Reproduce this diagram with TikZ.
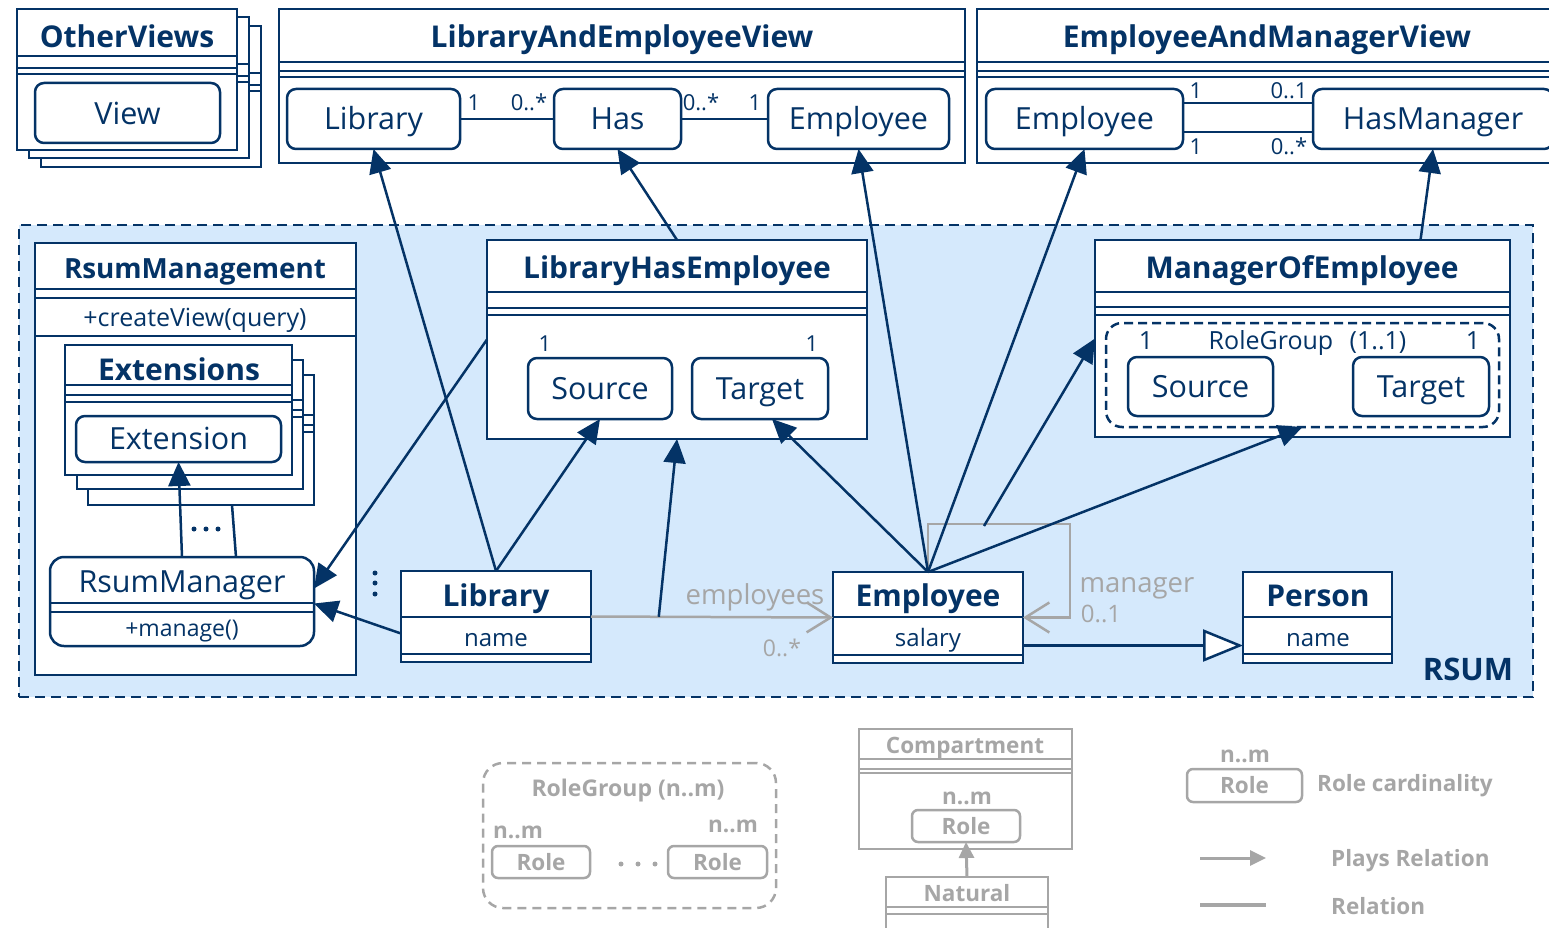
\documentclass[tikz,border=0pt]{standalone}
\usepackage{fontspec}
\setmainfont{Open Sans}
\usetikzlibrary{arrows.meta,calc}
\definecolor{navy}{RGB}{4,51,102}
\definecolor{rsumbg}{RGB}{213,233,252}
\definecolor{lgray}{RGB}{166,166,166}
\newcommand\fs[1]{\fontsize{#1}{#1}\selectfont}
% UML-style frame: name, x, y, width, height, separator offsets, colour
\newcommand\umlframe[7]{%
  \node[box,draw=#7,minimum width=#4pt,minimum height=#5pt] (#1) at (#2,#3) {};
  \foreach \off in {#6} {\draw[draw=#7,line width=2.5pt] (#2,#3+\off) -- (#2+#4,#3+\off);}
}
\begin{document}
\begin{tikzpicture}[x=1pt,y=-1pt,
  box/.style={draw=navy,line width=2.5pt,fill=white,anchor=north west,inner sep=0pt,outer sep=0pt},
  rbox/.style={box,rounded corners=9pt},
  gbox/.style={box,draw=lgray,rounded corners=6pt},
  ttl/.style={text=navy,font=\fs{30}\bfseries,inner sep=0pt,text height=21.4pt,text depth=0pt},
  txt/.style={text=navy,font=\fs{30.5},inner sep=0pt,text height=21.8pt,text depth=0pt},
  small/.style={text=navy,font=\fs{24},inner sep=0pt,text height=17.1pt,text depth=0pt},
  mult/.style={text=navy,font=\fs{22},inner sep=0pt,text height=15.7pt,text depth=0pt},
  gtxt/.style={text=lgray,font=\fs{27.5},inner sep=0pt,text height=19.6pt,text depth=0pt},
  leg/.style={text=lgray,font=\fs{22.5}\bfseries,inner sep=0pt,text height=16pt,text depth=0pt},
  link/.style={draw=navy,line width=2.5pt},
  plays/.style={draw=navy,line width=2.5pt,-{Triangle[length=24pt,width=22pt]}},
  assoc/.style={draw=lgray,line width=2.5pt,-{Straight Barb[length=24pt,width=30pt]}},
  gplays/.style={draw=lgray,line width=3pt,-{Triangle[length=16pt,width=15pt]}},
]
\useasboundingbox (0,0) rectangle (1549,928);
\clip (0,0) rectangle (1549,928);

% ---------- views ----------
\umlframe{ov3}{41}{26}{220}{141}{47,59,65}{navy}
\umlframe{ov2}{29}{17}{220}{141}{47,59,65}{navy}
\umlframe{ov1}{17}{9}{220}{141}{47,59,65}{navy}
\node[ttl] (ovT) at (127,37) {OtherViews};
\node[rbox,minimum width=185pt,minimum height=60pt] (vView) at (35,83) {};
\node[txt] at ([yshift=-1pt]vView.center) {View};

\umlframe{laev}{279}{9}{686}{154}{53,62,68}{navy}
\node[ttl] (laevT) at (622,37) {LibraryAndEmployeeView};
\node[rbox,minimum width=173pt,minimum height=60pt] (vLib) at (287,89) {};
\node[rbox,minimum width=127pt,minimum height=60pt] (vHas) at (554,89) {};
\node[rbox,minimum width=181pt,minimum height=60pt] (vEmp) at (768,89) {};
\node[txt] at (vLib.center) {Library};
\node[txt] at (vHas.center) {Has};
\node[txt] at (vEmp.center) {Employee};
\draw[link] (vLib.east) -- (vHas.west);
\draw[link] (vHas.east) -- (vEmp.west);
\node[mult] at (474,103) {1};
\node[mult] at (529,103) {0..*};
\node[mult] at (701,103) {0..*};
\node[mult] at (755,103) {1};

\umlframe{eamv}{977}{9}{600}{154}{53,62,68}{navy}
\node[ttl] (eamvT) at (1267,37) {EmployeeAndManagerView};
\node[rbox,minimum width=197pt,minimum height=60pt] (vEmp2) at (986,89) {};
\node[rbox,minimum width=240pt,minimum height=60pt] (vHM) at (1313,89) {};
\node[txt] at (vEmp2.center) {Employee};
\node[txt] at (vHM.center) {HasManager};
\draw[link] ([yshift=16pt]vEmp2.east) -- ([yshift=16pt]vHM.west);
\draw[link] ([yshift=-13pt]vEmp2.east) -- ([yshift=-13pt]vHM.west);
\node[mult] at (1196,91) {1};
\node[mult] at (1289,91) {0..1};
\node[mult] at (1196,147) {1};
\node[mult] at (1289,147) {0..*};

% ---------- RSUM ----------
\node[box,fill=rsumbg,dash pattern=on 10pt off 6pt,minimum width=1514pt,minimum height=472pt] (rsum) at (19,225) {};
\node[ttl,font=\fs{31}\bfseries] (rsumT) at (1468,670) {RSUM};

% RsumManagement
\umlframe{rmg}{35}{243}{321}{432}{46,55,93}{navy}
\node[ttl,font=\fs{27.8}\bfseries] (rmgT) at (195,268) {RsumManagement};
\node[small,font=\fs{25}] (rmgOp) at (195,318) {+createView(query)};
\umlframe{ext3}{88}{375}{226}{130}{40,50,57}{navy}
\umlframe{ext2}{77}{360}{226}{129}{40,50,57}{navy}
\umlframe{ext1}{65}{345}{227}{130}{40,50,57}{navy}
\node[ttl] (extT) at (179,370) {Extensions};
\node[rbox,minimum width=205pt,minimum height=46pt] (ext) at (76,416) {};
\node[txt] at (ext.center) {Extension};
\node[rbox,rounded corners=14pt,minimum width=264pt,minimum height=89pt] (rm) at (50,557) {};
\draw[link] (50,603) -- (314,603);
\draw[link] (50,612) -- (314,612);
\node[txt] (rmT) at (182,582) {RsumManager};
\node[small,font=\fs{23}] (rmOp) at (182,628) {+manage()};
\draw[plays] (rm.north) -- (ext.south);
\draw[link] ([xshift=54pt]rm.north) -- ([xshift=31pt]ext3.south);
\foreach \dx in {194,206,218} \fill[navy] (\dx,529) circle (2.5pt);
\foreach \dy in {573,583,594} \fill[navy] (375,\dy) circle (2.5pt);

% LibraryHasEmployee
\umlframe{lhe}{487}{240}{380}{199}{52,68,75}{navy}
\node[ttl] (lheT) at (677,268) {LibraryHasEmployee};
\node[rbox,minimum width=144pt,minimum height=61pt] (lheSrc) at (528,358) {};
\node[rbox,minimum width=136pt,minimum height=61pt] (lheTgt) at (692,358) {};
\node[txt] at (lheSrc.center) {Source};
\node[txt] at (lheTgt.center) {Target};
\node[mult] at (545,344) {1};
\node[mult] at (812,344) {1};

% ManagerOfEmployee
\umlframe{moe}{1095}{240}{415}{197}{52,67,75}{navy}
\node[ttl] (moeT) at (1302,268) {ManagerOfEmployee};
\node[box,fill=none,rounded corners=16pt,dash pattern=on 9pt off 5pt,minimum width=393pt,minimum height=104pt] (rg) at (1106,323) {};
\node[rbox,minimum width=145pt,minimum height=59pt] (moeSrc) at (1128,357) {};
\node[rbox,minimum width=136pt,minimum height=59pt] (moeTgt) at (1353,357) {};
\node[txt] at (moeSrc.center) {Source};
\node[txt] at (moeTgt.center) {Target};
\node[mult,font=\fs{25}] at (1146,342) {1};
\node[mult,font=\fs{25}] at (1271,342) {RoleGroup};
\node[mult,font=\fs{25}] at (1378,342) {(1..1)};
\node[mult,font=\fs{25}] at (1473,342) {1};

% naturals
\umlframe{libC}{401}{571}{190}{91}{46,83}{navy}
\node[ttl] (libT) at (496,596) {Library};
\node[small] at (496,638) {name};
\umlframe{empC}{833}{572}{190}{91}{45,83}{navy}
\node[ttl] (empT) at (928,596) {Employee};
\node[small] at (928,638) {salary};
\umlframe{person}{1243}{572}{149}{91}{45,82}{navy}
\node[ttl] (perT) at (1318,596) {Person};
\node[small] at (1318,638) {name};

% relations between naturals
\draw[assoc] (libC.east) -- (empC.west);
\node[gtxt] at (755,595) {employees};
\node[gtxt,font=\fs{23}] at (782,647) {0..*};
\coordinate (loopc) at (1070,524);
\draw[assoc] (empC.north) |- (loopc) |- (empC.east);
\node[gtxt] at (1137,583) {manager};
\node[gtxt,font=\fs{24}] at (1101,613) {0..1};
\draw[navy,line width=2.5pt,-{Triangle[open,length=40pt,width=32pt,fill=white]}] ([yshift=-28pt]empC.east) -- ([yshift=-28pt]person.west);

% plays relations
\coordinate (assocMid) at ($(libC.east)!0.28!(empC.west)$);
\coordinate (mgrRel) at (984,526);
\draw[plays] (libC.north) -- (vLib.south);
\draw[plays] (libC.north) -- (lheSrc.south);
\draw[plays] (assocMid) -- (lhe.south);
\draw[plays] (lhe.north) -- (vHas.south);
\draw[plays] (lhe.west) -- ([yshift=13pt]rm.east);
\draw[plays] ([yshift=-17pt]libC.west) -- ([yshift=-2pt]rm.east);
\draw[plays] (empC.north) -- ([xshift=12pt]lheTgt.south);
\draw[plays] (empC.north) -- (vEmp.south);
\draw[plays] (empC.north) -- (vEmp2.south);
\draw[plays] (empC.north) -- (rg.south);
\draw[plays] (mgrRel) -- (moe.west);
\draw[plays] ([xshift=118pt]moe.north) -- (vHM.south);

% ---------- legend ----------
\node[box,draw=lgray,fill=none,rounded corners=20pt,dash pattern=on 9pt off 6pt,minimum width=293pt,minimum height=145pt] (lrg) at (483,763) {};
\node[leg,font=\fs{23}\bfseries] at (628,788) {RoleGroup (n..m)};
\node[leg] at (518,830) {n..m};
\node[leg] at (733,824) {n..m};
\node[gbox,minimum width=98pt,minimum height=32pt] (lr1) at (492,846) {};
\node[gbox,minimum width=99pt,minimum height=32pt] (lr2) at (668,846) {};
\node[leg] at (lr1.center) {Role};
\node[leg] at (lr2.center) {Role};
\foreach \dx in {621,638,655} \fill[lgray] (\dx,864) circle (2.5pt);

\umlframe{lcmp}{859}{729}{213}{120}{30,40,44}{lgray}
\node[leg] at (965,745) {Compartment};
\node[leg] at (967,796) {n..m};
\node[gbox,minimum width=108pt,minimum height=32pt] (lrole) at (912,810) {};
\node[leg] at (lrole.center) {Role};
\umlframe{lnat}{886}{877}{162}{70}{30,37}{lgray}
\node[leg] at (967,893) {Natural};
\draw[gplays] (lnat.north) -- (lrole.south);

\node[leg] at (1245,754) {n..m};
\node[gbox,minimum width=115pt,minimum height=33pt] (lcard) at (1187,769) {};
\node[leg] at (lcard.center) {Role};
\node[leg,anchor=west] (lcardT) at (1317,783) {Role cardinality};
\coordinate (lpA) at (1200,858);
\coordinate (lpB) at (1266,858);
\draw[gplays] (lpA) -- (lpB);
\node[leg,anchor=west] (lpT) at (1331,858) {Plays Relation};
\coordinate (lrA) at (1200,905);
\coordinate (lrB) at (1266,905);
\draw[draw=lgray,line width=3.5pt] (lrA) -- (lrB);
\node[leg,anchor=west] (lrT) at (1331,906) {Relation};
\end{tikzpicture}
\end{document}
